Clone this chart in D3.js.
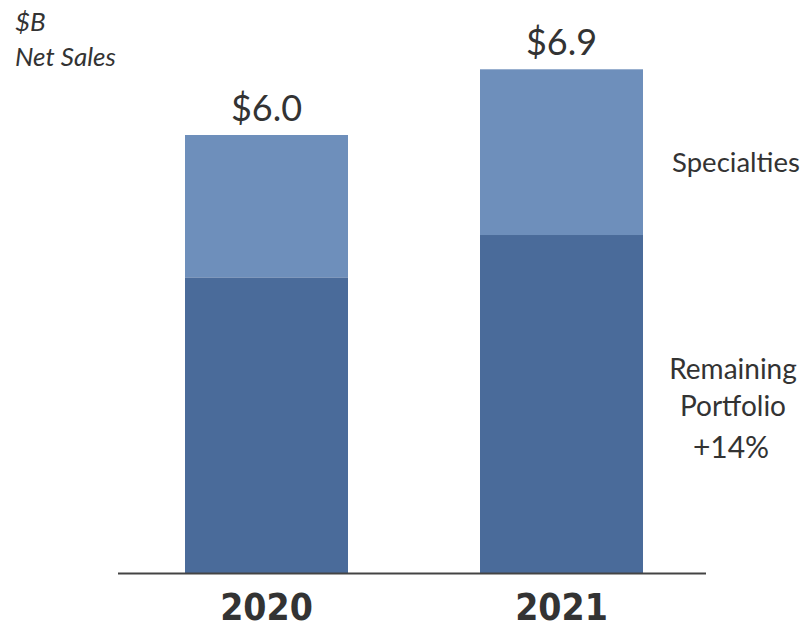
<!DOCTYPE html>
<html><head><meta charset="utf-8">
<script src="https://cdn.jsdelivr.net/npm/d3@7"></script>
<style>body{margin:0;background:#fff}svg text{font-family:Lato,"Open Sans",sans-serif;fill:#333}</style>
</head><body><svg id="c" width="806" height="629"></svg>
<script>
const years = ["2020", "2021"];
const remaining = [4.05, 4.63];
const specialties = [1.95, 2.27];
const totals = ["$6.0", "$6.9"];
const colors = ["#4a6b9a", "#6e8fbb"];

const svg = d3.select("#c");
const y = d3.scaleLinear().domain([0, 7]).range([573, 573 - 7 * 73]);
const x = d3.scaleBand().domain(years).range([37.5, 790.5]).paddingInner(0.4448).paddingOuter(0.45);
// bars ~185-348 and 480-643
const bw = 163;
const centers = d3.scalePoint().domain(years).range([266.5, 561.5]);

const data = years.map((yr, i) => ({year: yr, rem: remaining[i], spec: specialties[i]}));
const stack = d3.stack().keys(["rem", "spec"])(data);

svg.append("g").selectAll("g").data(stack).join("g")
  .attr("fill", (d, i) => colors[i])
  .selectAll("rect").data(d => d).join("rect")
  .attr("x", d => centers(d.data.year) - bw / 2)
  .attr("width", bw)
  .attr("y", d => y(d[1]))
  .attr("height", d => y(d[0]) - y(d[1]));

svg.append("line").attr("x1", 118).attr("x2", 706).attr("y1", y(0) + 0.5).attr("y2", y(0) + 0.5)
  .attr("stroke", "#444").attr("stroke-width", 2);

svg.selectAll(".tot").data(data).join("text")
  .attr("x", d => centers(d.year))
  .attr("y", d => y(d.rem + d.spec) - 14)
  .attr("text-anchor", "middle").attr("font-size", 36)
  .text((d, i) => totals[i]);

svg.selectAll(".yr").data(years).join("text")
  .attr("x", d => centers(d)).attr("y", 620)
  .attr("text-anchor", "middle").attr("font-size", 37).attr("font-weight", "bold")
  .style("font-family", "'DejaVu Sans Condensed','Liberation Sans Narrow',sans-serif")
  .text(d => d);

svg.append("text").attr("x", 15).attr("y", 31).attr("font-size", 26).attr("font-style", "italic").text("$B");
svg.append("text").attr("x", 15).attr("y", 66).attr("font-size", 26).attr("font-style", "italic").text("Net Sales");

svg.append("text").attr("x", 736).attr("y", 172).attr("text-anchor", "middle").attr("font-size", 27.5).text("Specialties");
svg.append("text").attr("x", 733).attr("y", 379).attr("text-anchor", "middle").attr("font-size", 28).text("Remaining");
svg.append("text").attr("x", 733).attr("y", 416).attr("text-anchor", "middle").attr("font-size", 28).text("Portfolio");
svg.append("text").attr("x", 731).attr("y", 458).attr("text-anchor", "middle").attr("font-size", 30).text("+14%");
</script></body></html>
